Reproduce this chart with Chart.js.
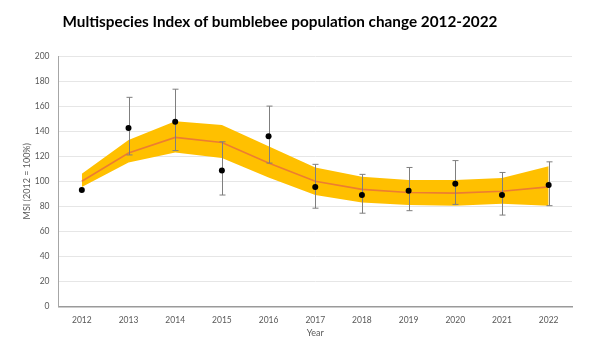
<!DOCTYPE html>
<html>
<head>
<meta charset="utf-8">
<script src="https://cdn.jsdelivr.net/npm/chart.js@4/dist/chart.umd.min.js"></script>
<style>
  html, body { margin: 0; padding: 0; background: #fff; }
  #wrap { width: 600px; height: 349px; position: relative; }
</style>
</head>
<body>
<div id="wrap"><canvas id="chart"></canvas></div>
<script>
// --- data ---
const years = ['2012', '2013', '2014', '2015', '2016', '2017', '2018', '2019', '2020', '2021', '2022'];
const msiPoints = [93, 142.5, 147.5, 108.5, 136, 95.5, 89, 92.5, 98, 89, 97];
const errHigh = [null, 167, 173.5, 131.5, 160, 113.5, 105.5, 111, 116.5, 107, 115.5];
const errLow = [null, 121, 124.5, 89, 114.5, 78.5, 74.5, 76.5, 81.5, 73, 80.5];
const trend = [100, 122.5, 135, 131, 114.5, 100, 93.5, 91, 90.5, 92, 95.5];
const bandUpper = [106, 133, 148, 145, 128, 111, 103.5, 101, 101, 102.5, 112];
const bandLower = [95.5, 115, 123, 118.5, 103, 89, 83, 81, 80.5, 82, 80.5];
const yTicks = [0, 20, 40, 60, 80, 100, 120, 140, 160, 180, 200];

const titleText = 'Multispecies Index of bumblebee population change 2012-2022';
const labelFont = 'Lato, "Open Sans", sans-serif';
const grey = '#595959';

// error bars drawn just before the dots, through the chart scales
const errorBars = {
  id: 'errorBars',
  beforeDatasetDraw(chart, args) {
    if (args.index !== 0) return;
    const { ctx } = chart;
    const x = chart.scales.x, y = chart.scales.y;
    ctx.save();
    ctx.strokeStyle = '#7f7f7f';
    ctx.lineWidth = 1;
    years.forEach((yr, i) => {
      if (errHigh[i] == null) return;
      const px = Math.round(x.getPixelForValue(i)) + 0.5;
      const top = y.getPixelForValue(errHigh[i]);
      const bot = y.getPixelForValue(errLow[i]);
      ctx.beginPath();
      ctx.moveTo(px, top); ctx.lineTo(px, bot);
      ctx.moveTo(px - 3, top); ctx.lineTo(px + 3, top);
      ctx.moveTo(px - 3, bot); ctx.lineTo(px + 3, bot);
      ctx.stroke();
    });
    ctx.restore();
  }
};

const chartTitle = {
  id: 'chartTitle',
  afterDraw(chart) {
    const { ctx } = chart;
    ctx.save();
    ctx.fillStyle = '#000';
    ctx.font = 'bold 15.3px ' + labelFont;
    ctx.textAlign = 'center';
    ctx.textBaseline = 'middle';
    ctx.fillText(titleText, 280, 22);
    ctx.restore();
  }
};

new Chart(document.getElementById('chart'), {
  type: 'line',
  data: {
    labels: years,
    datasets: [
      {
        label: 'MSI',
        data: msiPoints,
        showLine: false,
        pointRadius: 3,
        pointBackgroundColor: '#000',
        pointBorderColor: '#000',
        pointBorderWidth: 0,
        order: 0
      },
      {
        label: 'Trend',
        data: trend,
        borderColor: '#ED7D31',
        borderWidth: 1.6,
        pointRadius: 0,
        tension: 0,
        fill: false,
        order: 1
      },
      {
        label: 'Upper',
        data: bandUpper,
        borderWidth: 0,
        borderColor: 'rgba(0,0,0,0)',
        backgroundColor: '#FFC000',
        pointRadius: 0,
        tension: 0,
        fill: '+1',
        order: 2
      },
      {
        label: 'Lower',
        data: bandLower,
        borderWidth: 0,
        borderColor: 'rgba(0,0,0,0)',
        pointRadius: 0,
        tension: 0,
        fill: false,
        order: 3
      }
    ]
  },
  options: {
    responsive: true,
    maintainAspectRatio: false,
    animation: false,
    layout: { padding: { top: 56, right: 28, bottom: 0, left: 0 } },
    plugins: {
      legend: { display: false },
      tooltip: { enabled: false },
      title: { display: false }
    },
    scales: {
      x: {
        offset: true,
        grid: { display: false, drawTicks: false },
        border: { display: true, color: '#9a9a9a', width: 1.5 },
        ticks: { color: grey, font: { family: labelFont, size: 8.5 }, padding: 9, maxRotation: 0 },
        title: {
          display: true, text: 'Year', color: grey,
          font: { family: labelFont, size: 9 }, padding: { top: 0, bottom: 10.6 }
        },
        afterFit: (s) => { s.height = 42.5; }
      },
      y: {
        min: 0,
        max: 200,
        afterBuildTicks: (s) => { s.ticks = yTicks.map(v => ({ value: v })); },
        grid: { color: '#e6e6e6', lineWidth: 1, drawTicks: false },
        border: { display: true, color: '#a6a6a6', width: 1 },
        ticks: { color: grey, font: { family: labelFont, size: 8.5 }, padding: 9 },
        title: {
          display: true, text: 'MSI (2012 = 100%)', color: grey,
          font: { family: labelFont, size: 9 }, padding: { top: 21.6, bottom: 0 }
        },
        afterFit: (s) => { s.width = 58.5; }
      }
    }
  },
  plugins: [errorBars, chartTitle]
});
</script>
</body>
</html>
